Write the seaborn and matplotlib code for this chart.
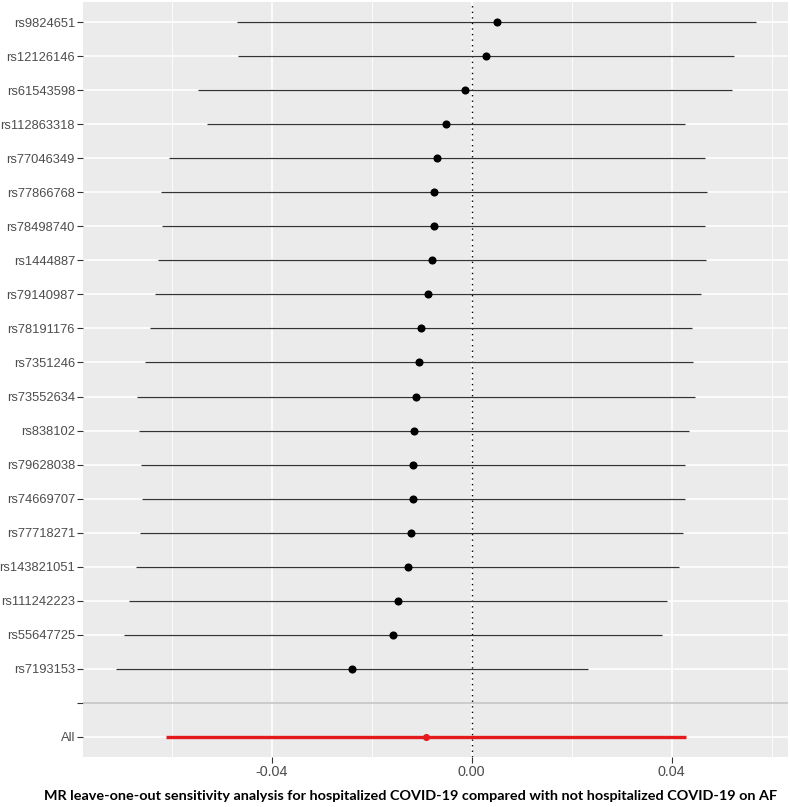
import numpy as np
import pandas as pd
import matplotlib
matplotlib.use("Agg")
import matplotlib.pyplot as plt
import seaborn as sns

snps = ["rs9824651", "rs12126146", "rs61543598", "rs112863318", "rs77046349",
        "rs77866768", "rs78498740", "rs1444887", "rs79140987", "rs78191176",
        "rs7351246", "rs73552634", "rs838102", "rs79628038", "rs74669707",
        "rs77718271", "rs143821051", "rs111242223", "rs55647725", "rs7193153"]
b = [0.0050, 0.0029, -0.0013, -0.0051, -0.0069, -0.0076, -0.0076, -0.0079,
     -0.0087, -0.0102, -0.0105, -0.0111, -0.0115, -0.0117, -0.0118, -0.0121,
     -0.0127, -0.0148, -0.0158, -0.0239]
lo = [-0.0469, -0.0468, -0.0547, -0.0529, -0.0605, -0.0621, -0.0619, -0.0627,
      -0.0633, -0.0644, -0.0653, -0.0670, -0.0665, -0.0661, -0.0660, -0.0663,
      -0.0672, -0.0685, -0.0695, -0.0711]
up = [0.0569, 0.0525, 0.0520, 0.0427, 0.0467, 0.0470, 0.0467, 0.0469,
      0.0458, 0.0441, 0.0443, 0.0447, 0.0435, 0.0427, 0.0427, 0.0422,
      0.0415, 0.0390, 0.0380, 0.0233]
all_label = "All"
all_b = -0.0092
all_lo = -0.0612
all_up = 0.0428
xticks = [-0.04, 0.00, 0.04]
xtick_labels = ["-0.04", "0.00", "0.04"]
xlabel = "MR leave-one-out sensitivity analysis for hospitalized COVID-19 compared with not hospitalized COVID-19 on AF"

# positions: All=1, blank=2, SNPs 3..22 (top = last)
n = len(snps)
snp_pos = [n + 2 - i for i in range(n)]
df = pd.DataFrame({"SNP": snps, "b": b, "lo": lo, "up": up, "pos": snp_pos})
df_all = pd.DataFrame({"SNP": [all_label], "b": [all_b], "lo": [all_lo],
                       "up": [all_up], "pos": [1]})

sns.set_theme(style="darkgrid")
plt.rcParams["font.family"] = ["Liberation Sans", "DejaVu Sans"]

fig = plt.figure(figsize=(7.9, 8.07), dpi=100)
ax = fig.add_axes([83.3 / 790, 1 - 757 / 807, (788 - 83.3) / 790, (757 - 2) / 807])
ax.set_facecolor("#EBEBEB")

# grid
for xv in [-0.06, -0.02, 0.02, 0.06]:
    ax.axvline(xv, color="white", lw=0.6, zorder=0)
for xv in xticks:
    ax.axvline(xv, color="white", lw=1.2, zorder=0)
for yv in list(snp_pos) + [1, 2]:
    ax.axhline(yv, color="white", lw=1.2, zorder=0)
ax.grid(False)

ax.axvline(0, color="black", lw=1.0, linestyle=(0, (1, 3)), zorder=1)
ax.axhline(2, color="#BEBEBE", lw=1.1, zorder=1)

ax.hlines(df["pos"], df["lo"], df["up"], color="#333333", lw=0.9, zorder=2)
ax.hlines(df_all["pos"], df_all["lo"], df_all["up"], color="#E41A1C", lw=2.4,
          zorder=2)
sns.scatterplot(data=df, x="b", y="pos", color="black", s=34, linewidth=0,
                ax=ax, zorder=3)
sns.scatterplot(data=df_all, x="b", y="pos", color="#E41A1C", s=26,
                linewidth=0, ax=ax, zorder=3)

ax.set_xlim(-0.0777, 0.0633)
ax.set_ylim(0.4, n + 2.6)
ax.set_xticks(xticks)
ax.set_xticklabels(xtick_labels)
ax.set_yticks([1, 2] + snp_pos)
ax.set_yticklabels([all_label, ""] + snps)
ax.tick_params(axis="y", labelsize=9.3, colors="#4D4D4D", length=4,
               width=0.8, pad=2, left=True)
ax.tick_params(axis="x", labelsize=10.4, colors="#4D4D4D", length=4,
               width=0.8, pad=2, bottom=True)
for t in ax.get_xticklabels() + ax.get_yticklabels():
    t.set_color("#4D4D4D")
ax.tick_params(axis="both", color="#333333")
ax.set_xlabel("")
ax.set_ylabel("")
for s in ax.spines.values():
    s.set_visible(False)

txt = fig.text(411 / 790, 1 - 796 / 807, xlabel, ha="center", va="center",
               fontsize=11, fontweight="bold", family=["Lato", "DejaVu Sans"],
               color="black")
fig.canvas.draw()
w = txt.get_window_extent().width
txt.set_fontsize(11 * 733 / w)

fig.savefig("out.png", dpi=100)
